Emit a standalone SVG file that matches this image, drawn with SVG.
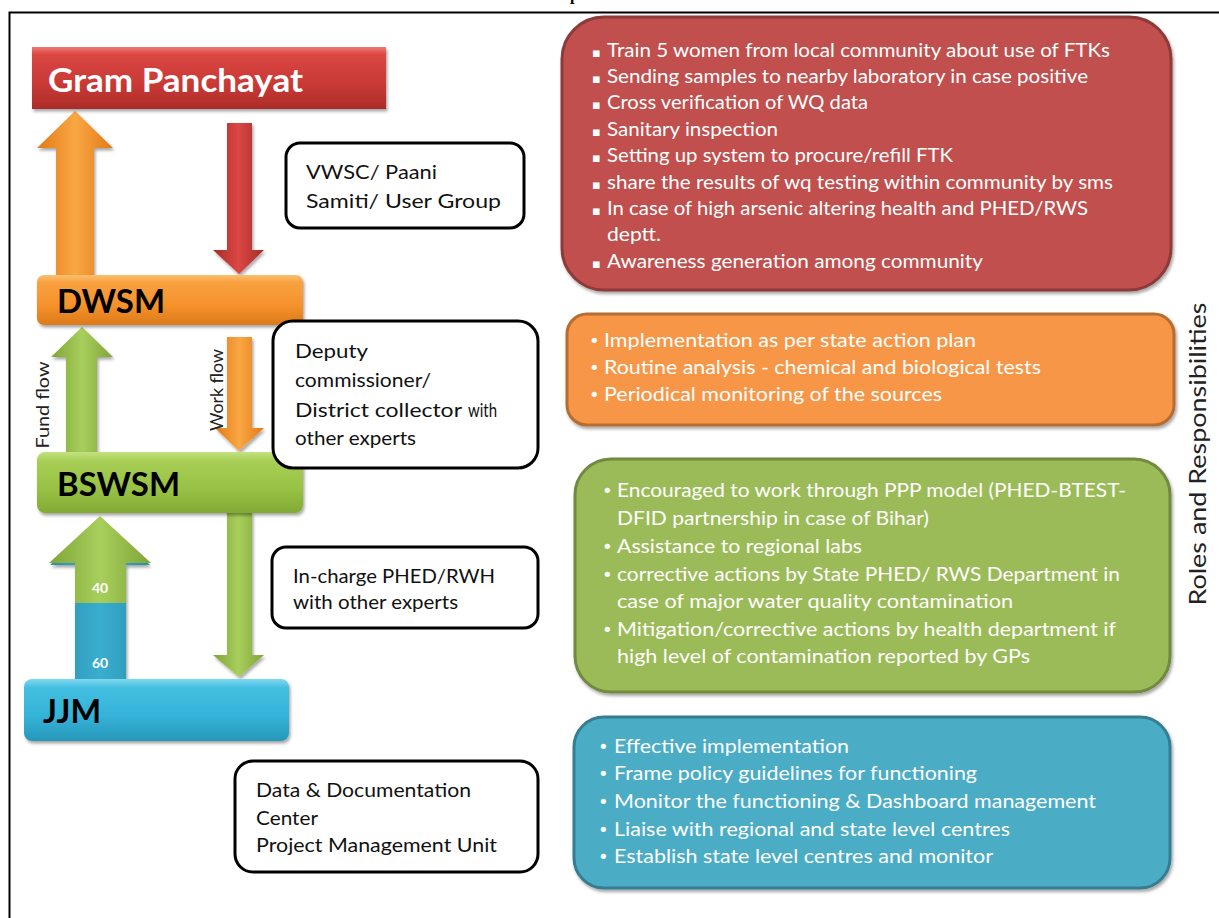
<svg xmlns="http://www.w3.org/2000/svg" width="1219" height="918" viewBox="0 0 1219 918">
<defs>
<style>
.lbl{font-family:Lato,"Open Sans","Liberation Sans",sans-serif;font-size:19px;fill:#111}
.big{font-family:Lato,"Open Sans","Liberation Sans",sans-serif;font-weight:bold;font-size:33px}
.pt{font-family:Lato,"Open Sans","Liberation Sans",sans-serif;font-size:18.5px;fill:#fff}
.bul{font-family:"DejaVu Sans",sans-serif;font-size:13px;fill:#fff}
.dot{font-family:"DejaVu Sans",sans-serif;font-size:18px;fill:#fff}
.rot{font-family:Lato,"Open Sans","Liberation Sans",sans-serif;fill:#222}
.wbox{fill:#fff;stroke:#000;stroke-width:3}
</style>
<filter id="sh" x="-10%" y="-10%" width="125%" height="140%">
<feDropShadow dx="1.5" dy="2.5" stdDeviation="1.8" flood-color="#000" flood-opacity="0.35"/>
</filter>
<linearGradient id="gRed" x1="0" y1="0" x2="0" y2="1">
<stop offset="0" stop-color="#F07A76"/><stop offset="0.12" stop-color="#DA4743"/><stop offset="0.6" stop-color="#C93935"/><stop offset="1" stop-color="#AC2C29"/>
</linearGradient>
<linearGradient id="gOr" x1="0" y1="0" x2="0" y2="1">
<stop offset="0" stop-color="#FCC070"/><stop offset="0.15" stop-color="#F9A140"/><stop offset="0.6" stop-color="#F5922C"/><stop offset="1" stop-color="#DC7A1A"/>
</linearGradient>
<linearGradient id="gGr" x1="0" y1="0" x2="0" y2="1">
<stop offset="0" stop-color="#C4E282"/><stop offset="0.15" stop-color="#A6CE55"/><stop offset="0.6" stop-color="#98C245"/><stop offset="1" stop-color="#82AA34"/>
</linearGradient>
<linearGradient id="gBl" x1="0" y1="0" x2="0" y2="1">
<stop offset="0" stop-color="#7FD8F0"/><stop offset="0.15" stop-color="#42BEE0"/><stop offset="0.6" stop-color="#34B3D8"/><stop offset="1" stop-color="#2797B9"/>
</linearGradient>
<linearGradient id="aOr" x1="0" y1="0" x2="1" y2="0">
<stop offset="0" stop-color="#E27A16"/><stop offset="0.5" stop-color="#F9A744"/><stop offset="1" stop-color="#E27A16"/>
</linearGradient>
<linearGradient id="aRed" x1="0" y1="0" x2="1" y2="0">
<stop offset="0" stop-color="#A72A27"/><stop offset="0.5" stop-color="#DB4844"/><stop offset="1" stop-color="#A72A27"/>
</linearGradient>
<linearGradient id="aGr" x1="0" y1="0" x2="1" y2="0">
<stop offset="0" stop-color="#7EA536"/><stop offset="0.5" stop-color="#A8CF5C"/><stop offset="1" stop-color="#7EA536"/>
</linearGradient>
<linearGradient id="aBl" x1="0" y1="0" x2="1" y2="0">
<stop offset="0" stop-color="#2A8FAD"/><stop offset="0.5" stop-color="#3AAED0"/><stop offset="1" stop-color="#2A8FAD"/>
</linearGradient>
</defs>
<rect width="1219" height="918" fill="#fff"/>
<rect x="9.5" y="12.5" width="1230" height="930" fill="none" stroke="#000" stroke-width="2"/>
<text x="570" y="-0.5" font-family="Liberation Serif,serif" font-weight="bold" font-size="16" fill="#000">p</text>

<g id="connectors">
<polygon points="75,111 113,148 94,148 94,277 56,277 56,148 37,148" fill="url(#aOr)" filter="url(#sh)"/>
<polygon points="227,123 252,123 252,250 264,250 239,274 213,250 227,250" fill="url(#aRed)" filter="url(#sh)"/>
<polygon points="82,327 113,357 97,357 97,453 66,453 66,357 51,357" fill="url(#aGr)" filter="url(#sh)"/>
<polygon points="227,337 252,337 252,428 264,428 239,451 215,428 227,428" fill="url(#aOr)" filter="url(#sh)"/>
<polygon points="100,519 150,565 126,565 126,679 75,679 75,565 50,565" fill="url(#aBl)" filter="url(#sh)"/>
<polygon points="100,516 151,563 126,563 126,603 75,603 75,563 49,563" fill="url(#aGr)"/>
<polygon points="227,512 252,512 252,655 264,655 239,677 213,655 227,655" fill="url(#aGr)" filter="url(#sh)"/>
<text x="100" y="593" text-anchor="middle" font-family="Lato,'Liberation Sans',sans-serif" font-weight="bold" font-size="14" fill="#fff">40</text>
<text x="100" y="668" text-anchor="middle" font-family="Lato,'Liberation Sans',sans-serif" font-weight="bold" font-size="14" fill="#fff">60</text>
<text class="rot" transform="translate(49,405) rotate(-90)" text-anchor="middle" font-size="17" textLength="87" lengthAdjust="spacingAndGlyphs">Fund flow</text>
<text class="rot" transform="translate(223,390) rotate(-90)" text-anchor="middle" font-size="17" textLength="82" lengthAdjust="spacingAndGlyphs">Work flow</text>
</g>

<g id="gram-panchayat">
<rect x="32" y="47" width="354" height="62" fill="url(#gRed)" filter="url(#sh)"/>
<text class="big" x="48" y="92" fill="#fff" textLength="255" lengthAdjust="spacingAndGlyphs">Gram Panchayat</text>
</g>
<g id="dwsm">
<rect x="37" y="275" width="266" height="50" rx="7" fill="url(#gOr)" filter="url(#sh)"/>
<text class="big" x="57" y="313" fill="#000" textLength="108" lengthAdjust="spacingAndGlyphs">DWSM</text>
</g>
<g id="bswsm">
<rect x="37" y="452" width="266" height="61" rx="8" fill="url(#gGr)" filter="url(#sh)"/>
<text class="big" x="57" y="496" fill="#000" textLength="123" lengthAdjust="spacingAndGlyphs">BSWSM</text>
</g>
<g id="jjm">
<rect x="24" y="679" width="265" height="62" rx="8" fill="url(#gBl)" filter="url(#sh)"/>
<text class="big" x="43" y="723" fill="#000" textLength="58" lengthAdjust="spacingAndGlyphs">JJM</text>
</g>

<g id="vwsc">
<rect class="wbox" x="286" y="143" width="238" height="85" rx="14"/>
<text class="lbl" x="306" y="179" textLength="131" lengthAdjust="spacingAndGlyphs">VWSC/ Paani</text>
<text class="lbl" x="306" y="208" textLength="195" lengthAdjust="spacingAndGlyphs">Samiti/ User Group</text>
</g>
<g id="deputy">
<rect class="wbox" x="273" y="321" width="265" height="147" rx="20"/>
<text class="lbl" x="295" y="358" textLength="73" lengthAdjust="spacingAndGlyphs">Deputy</text>
<text class="lbl" x="295" y="387" textLength="136" lengthAdjust="spacingAndGlyphs">commissioner/</text>
<text class="lbl" x="295" y="417" textLength="167" lengthAdjust="spacingAndGlyphs">District collector</text>
<text class="lbl" x="468" y="417" font-size="14" textLength="29" lengthAdjust="spacingAndGlyphs">with</text>
<text class="lbl" x="295" y="445" textLength="121" lengthAdjust="spacingAndGlyphs">other experts</text>
</g>
<g id="incharge">
<rect class="wbox" x="272" y="547" width="266" height="81" rx="14"/>
<text class="lbl" x="293" y="583" textLength="202" lengthAdjust="spacingAndGlyphs">In-charge PHED/RWH</text>
<text class="lbl" x="293" y="609" font-size="17" textLength="165" lengthAdjust="spacingAndGlyphs">with other experts</text>
</g>
<g id="data-doc">
<rect class="wbox" x="235" y="761" width="303" height="111" rx="18"/>
<text class="lbl" x="256" y="797" textLength="215" lengthAdjust="spacingAndGlyphs">Data &amp; Documentation</text>
<text class="lbl" x="256" y="825" textLength="62" lengthAdjust="spacingAndGlyphs">Center</text>
<text class="lbl" x="256" y="852" textLength="241" lengthAdjust="spacingAndGlyphs">Project Management Unit</text>
</g>

<g id="panel-gp">
<rect x="562" y="17" width="609" height="273" rx="42" fill="#C0504D" stroke="#8C3A38" stroke-width="3" filter="url(#sh)"/>
<g class="bul"><text x="592" y="57">▪</text><text x="592" y="83">▪</text><text x="592" y="109">▪</text><text x="592" y="136">▪</text><text x="592" y="162">▪</text><text x="592" y="189">▪</text><text x="592" y="215">▪</text><text x="592" y="268">▪</text></g>
<text class="pt" x="607" y="57" textLength="503" lengthAdjust="spacingAndGlyphs">Train  5 women from local community about use of FTKs</text>
<text class="pt" x="607" y="83" textLength="481" lengthAdjust="spacingAndGlyphs">Sending samples to nearby laboratory in case positive</text>
<text class="pt" x="607" y="109" textLength="261" lengthAdjust="spacingAndGlyphs">Cross verification of WQ data</text>
<text class="pt" x="607" y="136" textLength="171" lengthAdjust="spacingAndGlyphs">Sanitary inspection</text>
<text class="pt" x="607" y="162" textLength="346" lengthAdjust="spacingAndGlyphs">Setting up system to procure/refill FTK</text>
<text class="pt" x="607" y="189" textLength="506" lengthAdjust="spacingAndGlyphs">share the results of wq testing within community by sms</text>
<text class="pt" x="607" y="215" textLength="481" lengthAdjust="spacingAndGlyphs">In case of  high arsenic altering health and PHED/RWS</text>
<text class="pt" x="607" y="241" textLength="54" lengthAdjust="spacingAndGlyphs">deptt.</text>
<text class="pt" x="607" y="268" textLength="376" lengthAdjust="spacingAndGlyphs">Awareness generation among community</text>
</g>

<g id="panel-dwsm">
<rect x="567" y="314" width="607" height="111" rx="20" fill="#F79646" stroke="#B66D31" stroke-width="3" filter="url(#sh)"/>
<g class="dot"><text x="589" y="347">•</text><text x="589" y="374">•</text><text x="589" y="401">•</text></g>
<text class="pt" x="604" y="347" textLength="372" lengthAdjust="spacingAndGlyphs">Implementation as per state action plan</text>
<text class="pt" x="604" y="374" textLength="437" lengthAdjust="spacingAndGlyphs">Routine analysis - chemical and biological tests</text>
<text class="pt" x="604" y="401" textLength="338" lengthAdjust="spacingAndGlyphs">Periodical monitoring of the sources</text>
</g>

<g id="panel-bswsm">
<rect x="575" y="459" width="595" height="233" rx="36" fill="#9BBB59" stroke="#71893F" stroke-width="3" filter="url(#sh)"/>
<g class="dot"><text x="602" y="497">•</text><text x="602" y="553">•</text><text x="602" y="581">•</text><text x="602" y="636">•</text></g>
<text class="pt" x="617" y="497" textLength="509" lengthAdjust="spacingAndGlyphs">Encouraged to work through PPP model (PHED-BTEST-</text>
<text class="pt" x="617" y="525" textLength="312" lengthAdjust="spacingAndGlyphs">DFID partnership in case of Bihar)</text>
<text class="pt" x="617" y="553" textLength="245" lengthAdjust="spacingAndGlyphs">Assistance to regional labs</text>
<text class="pt" x="617" y="581" textLength="503" lengthAdjust="spacingAndGlyphs">corrective actions by State PHED/ RWS Department in</text>
<text class="pt" x="617" y="608" textLength="396" lengthAdjust="spacingAndGlyphs">case of major water quality contamination</text>
<text class="pt" x="617" y="636" textLength="499" lengthAdjust="spacingAndGlyphs">Mitigation/corrective actions by health department if</text>
<text class="pt" x="617" y="663" textLength="413" lengthAdjust="spacingAndGlyphs">high level of contamination reported by GPs</text>
</g>

<g id="panel-jjm">
<rect x="574" y="717" width="596" height="171" rx="30" fill="#4BACC6" stroke="#357D91" stroke-width="3" filter="url(#sh)"/>
<g class="dot"><text x="598" y="753">•</text><text x="598" y="780">•</text><text x="598" y="808">•</text><text x="598" y="836">•</text><text x="598" y="863">•</text></g>
<text class="pt" x="614" y="753" textLength="235" lengthAdjust="spacingAndGlyphs">Effective implementation</text>
<text class="pt" x="614" y="780" textLength="363" lengthAdjust="spacingAndGlyphs">Frame policy guidelines for functioning</text>
<text class="pt" x="614" y="808" textLength="482" lengthAdjust="spacingAndGlyphs">Monitor the functioning &amp; Dashboard management</text>
<text class="pt" x="614" y="836" textLength="396" lengthAdjust="spacingAndGlyphs">Liaise with regional and state level centres</text>
<text class="pt" x="614" y="863" textLength="379" lengthAdjust="spacingAndGlyphs">Establish state level centres and monitor</text>
</g>

<g id="roles-label">
<text class="rot" transform="translate(1206,454) rotate(-90)" text-anchor="middle" font-size="24" textLength="303" lengthAdjust="spacingAndGlyphs">Roles and Responsibilities</text>
</g>
</svg>
